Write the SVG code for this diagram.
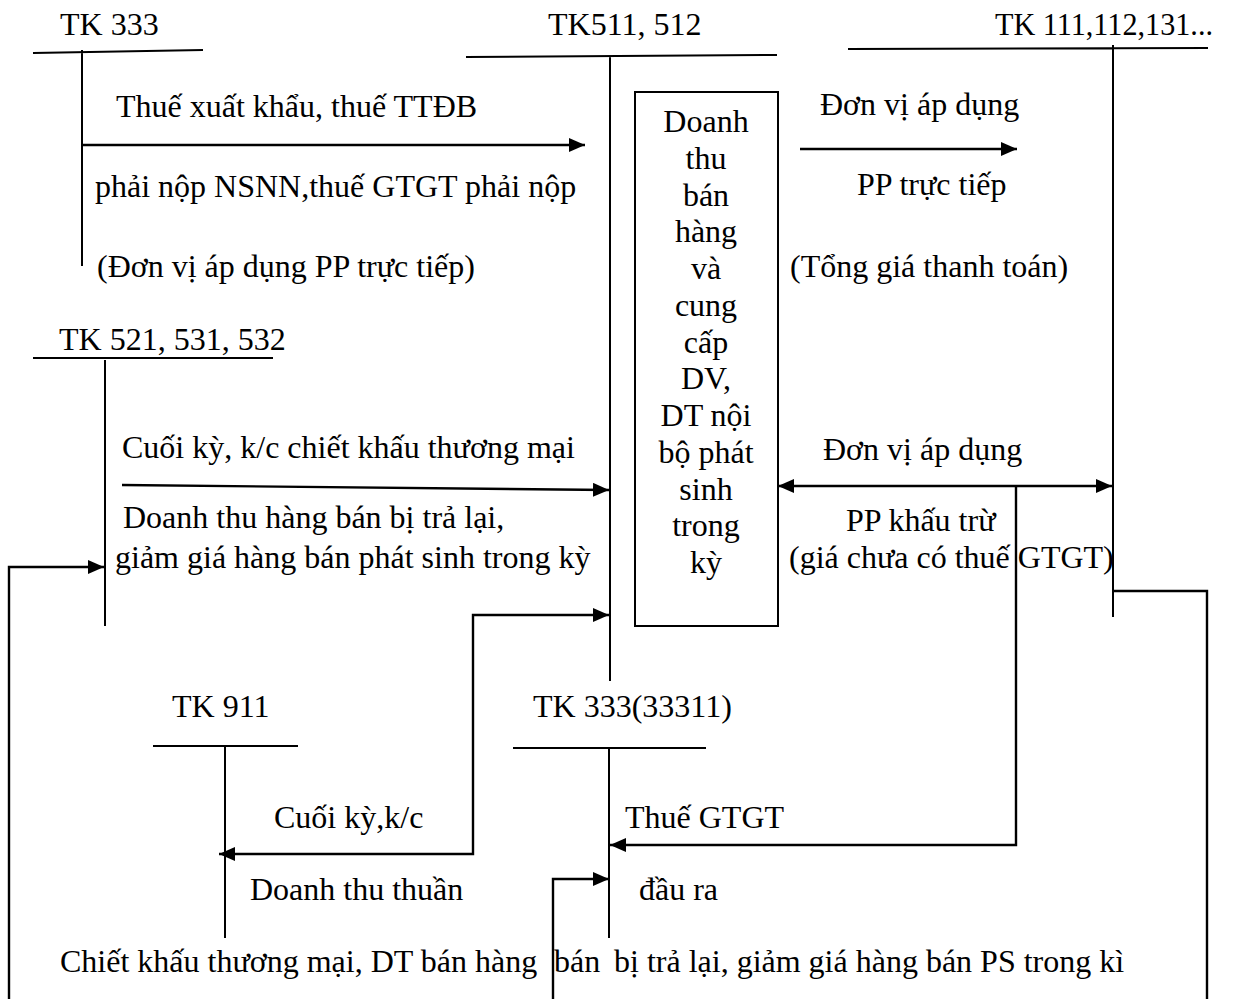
<svg xmlns="http://www.w3.org/2000/svg" width="1238" height="999" viewBox="0 0 1238 999">
<style>
text{font-family:"Liberation Serif","Times New Roman",serif;font-size:32px;fill:#000}
.t{stroke:#000;stroke-width:2;fill:none}
.c{stroke:#000;stroke-width:2.4;fill:none}
.bx{stroke:#000;stroke-width:2;fill:#fff}
.m{text-anchor:middle}
</style>
<defs>
<marker id="ah" viewBox="0 0 16 14" refX="16" refY="7" markerWidth="16" markerHeight="14" markerUnits="userSpaceOnUse" orient="auto-start-reverse">
<path d="M0,0 L16,7 L0,14 z" fill="#000"/>
</marker>
</defs>
<rect width="1238" height="999" fill="#fff"/>

<g id="tk333">
<path class="t" d="M33,53 L203,50 M82,50 V266"/>
<text x="60" y="35">TK 333</text>
</g>
<g id="tk511">
<path class="t" d="M466,57 L777,55 M610,56 V681"/>
<text x="548" y="35">TK511, 512</text>
</g>
<g id="tk111">
<path class="t" d="M848,49 L1208,48 M1113,45 V617"/>
<text x="995" y="35" textLength="218" lengthAdjust="spacingAndGlyphs">TK 111,112,131...</text>
</g>
<g id="tk521">
<path class="t" d="M33,358 H273 M105,360 V626"/>
<text x="59" y="350">TK 521, 531, 532</text>
</g>
<g id="tk911">
<path class="t" d="M153,746 H298 M225,746 V938"/>
<text x="172" y="717">TK 911</text>
</g>
<g id="tk33311">
<path class="t" d="M513,748 H706 M609,748 V938"/>
<text x="533" y="717">TK 333(33311)</text>
</g>
<g id="box">
<rect class="bx" x="635" y="92" width="143" height="534"/>
<text class="m" x="706" y="132">Doanh</text>
<text class="m" x="706" y="168.75">thu</text>
<text class="m" x="706" y="205.5">bán</text>
<text class="m" x="706" y="242.25">hàng</text>
<text class="m" x="706" y="279">và</text>
<text class="m" x="706" y="315.75">cung</text>
<text class="m" x="706" y="352.5">cấp</text>
<text class="m" x="706" y="389.25">DV,</text>
<text class="m" x="706" y="426">DT nội</text>
<text class="m" x="706" y="462.75">bộ phát</text>
<text class="m" x="706" y="499.5">sinh</text>
<text class="m" x="706" y="536.25">trong</text>
<text class="m" x="706" y="573">kỳ</text>
</g>

<g id="connectors">
<path class="c" d="M82,145 H585" marker-end="url(#ah)"/>
<path class="c" d="M800,149 H1017" marker-end="url(#ah)"/>
<path class="c" d="M122,485 L609,490" marker-end="url(#ah)"/>
<path class="c" d="M778,486 H1112" marker-start="url(#ah)" marker-end="url(#ah)"/>
<path class="c" d="M9,999 V567 H104" marker-end="url(#ah)"/>
<path class="c" d="M219,854 H473 V615 H609" marker-start="url(#ah)" marker-end="url(#ah)"/>
<path class="c" d="M1016,486 V845 H610" marker-end="url(#ah)"/>
<path class="c" d="M553,999 V879 H609" marker-end="url(#ah)"/>
<path class="c" d="M1113,591 H1207 V999"/>
</g>

<g id="labels">
<text x="116" y="117">Thuế xuất khẩu, thuế TTĐB</text>
<text x="95" y="197">phải nộp NSNN,thuế GTGT phải nộp</text>
<text x="97" y="277">(Đơn vị áp dụng PP trực tiếp)</text>
<text x="820" y="115">Đơn vị áp dụng</text>
<text x="857" y="195">PP trực tiếp</text>
<text x="790" y="277">(Tổng giá thanh toán)</text>
<text x="122" y="458">Cuối kỳ, k/c chiết khấu thương mại</text>
<text x="123" y="528">Doanh thu hàng bán bị trả lại,</text>
<text x="115" y="568">giảm giá hàng bán phát sinh trong kỳ</text>
<text x="823" y="460">Đơn vị áp dụng</text>
<text x="846" y="531">PP khấu trừ</text>
<text x="789" y="568">(giá chưa có thuế GTGT)</text>
<text x="274" y="828">Cuối kỳ,k/c</text>
<text x="250" y="900">Doanh thu thuần</text>
<text x="625" y="828">Thuế GTGT</text>
<text x="639" y="900">đầu ra</text>
<text x="60" y="972">Chiết khấu thương mại, DT bán hàng</text>
<text x="554" y="972">bán</text>
<text x="614" y="972">bị trả lại, giảm giá hàng bán PS trong kì</text>
</g>
</svg>
